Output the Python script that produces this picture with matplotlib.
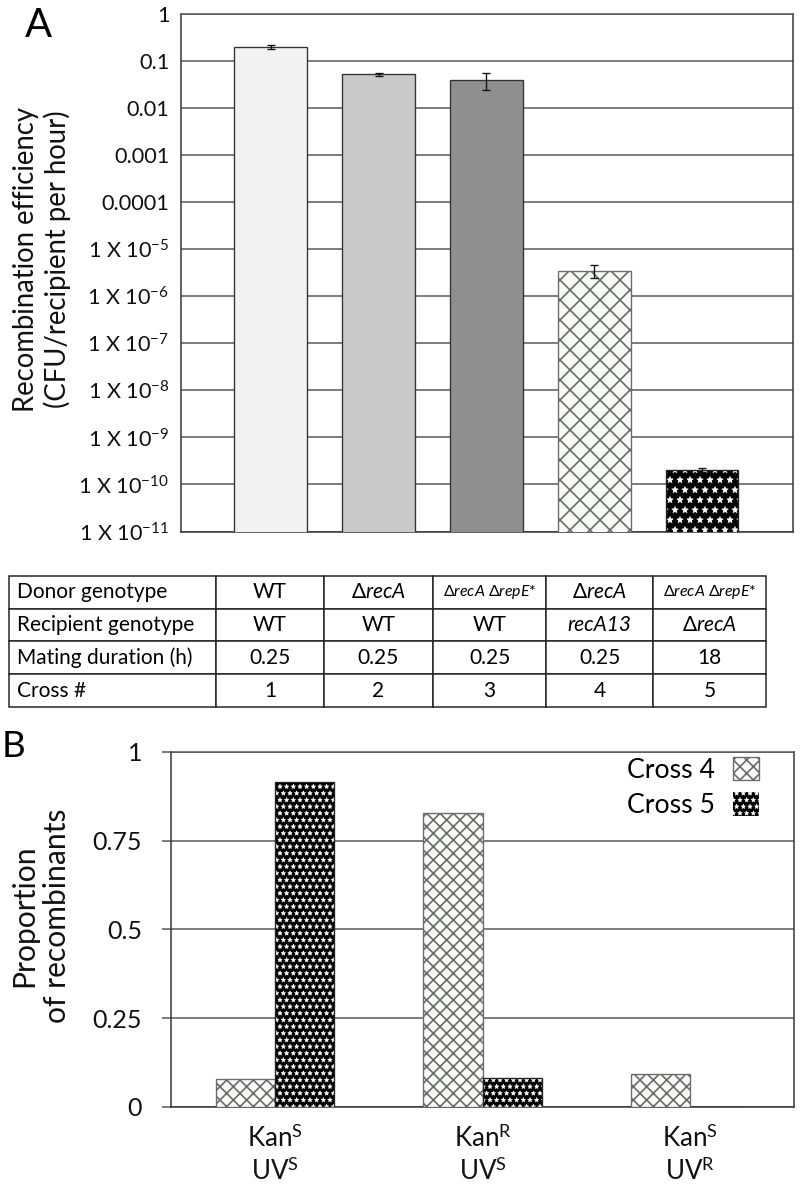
import numpy as np
import matplotlib
matplotlib.use('Agg')
import matplotlib.pyplot as plt

plt.rcParams['font.family'] = ['Lato', 'DejaVu Sans']
plt.rcParams['mathtext.fontset'] = 'custom'
plt.rcParams['mathtext.rm'] = 'Lato'
plt.rcParams['mathtext.it'] = 'Lato:italic'
plt.rcParams['mathtext.bf'] = 'Lato:bold'
plt.rcParams['hatch.linewidth'] = 1.0

# ---- panel A data ----
crosses = [1, 2, 3, 4, 5]
efficiency = [0.2, 0.053, 0.04, 3.5e-6, 2.05e-10]
efficiency_err = [0.02, 0.004, 0.016, 1.1e-6, 0.2e-10]
bar_colors = ['#f2f2f2', '#c9c9c9', '#8f8f8f', '#f7faf6', 'black']
a_ticks = [1, 0.1, 0.01, 0.001, 0.0001, 1e-5, 1e-6, 1e-7, 1e-8, 1e-9, 1e-10, 1e-11]
a_ticklabels = ['1', '0.1', '0.01', '0.001', '0.0001',
                r'1 X 10$^{\mathrm{-5}}$', r'1 X 10$^{\mathrm{-6}}$', r'1 X 10$^{\mathrm{-7}}$',
                r'1 X 10$^{\mathrm{-8}}$', r'1 X 10$^{\mathrm{-9}}$', r'1 X 10$^{\mathrm{-10}}$',
                r'1 X 10$^{\mathrm{-11}}$']

# ---- table ----
row_labels = ['Donor genotype', 'Recipient genotype', 'Mating duration (h)', 'Cross #']
donor = ['WT', r'$\Delta\mathit{recA}$', r'$\Delta\mathit{recA}$ $\Delta\mathit{repE}$*',
         r'$\Delta\mathit{recA}$', r'$\Delta\mathit{recA}$ $\Delta\mathit{repE}$*']
recipient = ['WT', 'WT', 'WT', 'recA13', r'$\Delta\mathit{recA}$']
duration = ['0.25', '0.25', '0.25', '0.25', '18']
cross_no = ['1', '2', '3', '4', '5']

# ---- panel B data ----
phenotypes = [r'Kan$^{\mathrm{S}}$' + '\n' + r'UV$^{\mathrm{S}}$',
              r'Kan$^{\mathrm{R}}$' + '\n' + r'UV$^{\mathrm{S}}$',
              r'Kan$^{\mathrm{S}}$' + '\n' + r'UV$^{\mathrm{R}}$']
cross4 = [0.078, 0.827, 0.093]
cross5 = [0.915, 0.0825, 0.0]
b_ticks = [0, 0.25, 0.5, 0.75, 1]
b_ticklabels = ['0', '0.25', '0.5', '0.75', '1']

W, H = 800, 1187
fig = plt.figure(figsize=(W / 120, H / 120), dpi=120)

grid_c = '#555555'
edge_c = '#333333'


def thin_hatch(patches, lw):
    # stars look closer to the original with a thin outline
    for p in patches:
        if hasattr(p, 'set_hatch_linewidth'):
            p.set_hatch_linewidth(lw)


# ================= panel A =================
axA = fig.add_axes([181 / W, 1 - 531.5 / H, 612 / W, 517.5 / H])
axA.set_yscale('log')
x = np.arange(len(crosses))
bw = 0.67
bars = axA.bar(x, efficiency, width=bw, zorder=3, edgecolor=edge_c, linewidth=0.8)
for b, c in zip(bars, bar_colors):
    b.set_facecolor(c)
bars[3].set_hatch('xx')
bars[3].set_edgecolor('#6b6b6b')
bars[4].set_hatch('**')
bars[4].set_edgecolor('white')
bars[4].set_linewidth(0)
thin_hatch([bars[4]], 0.3)
axA.bar(x[4], efficiency[4], width=bw, fill=False, edgecolor='#222222', linewidth=0.8, zorder=4)
axA.errorbar(x, efficiency, yerr=efficiency_err, fmt='none', ecolor='#111111',
             elinewidth=0.8, capsize=2.5, capthick=0.8, zorder=5)

axA.set_ylim(1e-11, 1)
axA.set_xlim(-0.83, 4.84)
axA.set_yticks(a_ticks, a_ticklabels)
axA.minorticks_off()
axA.set_xticks([])
axA.yaxis.grid(True, color=grid_c, linewidth=0.9)
axA.set_axisbelow(True)
axA.tick_params(axis='y', length=0, pad=7, labelsize=13, labelcolor='#111111')
for s in axA.spines.values():
    s.set_color(edge_c)
    s.set_linewidth(0.9)
axA.spines['top'].set_color(grid_c)
axA.set_ylabel('Recombination efficiency\n(CFU/recipient per hour)', fontsize=16.5,
               linespacing=1.2, color='#111111')
axA.yaxis.set_label_coords(-0.18, 0.526)

fig.text(25 / W, 1 - 37 / H, 'A', fontsize=24, ha='left', va='baseline')

# ================= table =================
axT = fig.add_axes([9 / W, 1 - 707 / H, 757 / W, 131.3 / H])
axT.axis('off')
cell_text = [[row_labels[0]] + donor,
             [row_labels[1]] + recipient,
             [row_labels[2]] + duration,
             [row_labels[3]] + cross_no]
col_w = np.array([207, 108, 109, 113, 107, 113]) / 757
tbl = axT.table(cellText=cell_text, colWidths=col_w, bbox=[0, 0, 1, 1], cellLoc='center')
tbl.auto_set_font_size(False)
tbl.set_fontsize(12.5)
for (r, c), cell in tbl.get_celld().items():
    cell.set_linewidth(0.9)
    cell.set_edgecolor('#222222')
    cell.PAD = 0.04
    if c == 0:
        cell.get_text().set_horizontalalignment('left')
    if r == 0 and c in (3, 5):
        cell.get_text().set_fontsize(9.5)
tbl[1, 4].get_text().set_fontstyle('italic')

# ================= panel B =================
axB = fig.add_axes([171 / W, 1 - 1107 / H, 623 / W, 355.3 / H])
xb = np.arange(len(phenotypes))
w = 0.285
b4 = axB.bar(xb - w / 2, cross4, width=w, color='#f7faf6', edgecolor='#6b6b6b',
             linewidth=0.8, hatch='xxx', zorder=3, label='Cross 4')
b5 = axB.bar(xb + w / 2, cross5, width=w, color='black', edgecolor='white',
             linewidth=0, hatch='***', zorder=3, label='Cross 5')
thin_hatch(b5, 0.3)
axB.bar(xb + w / 2, cross5, width=w, fill=False, edgecolor='#222222', linewidth=0.8, zorder=4)

axB.set_ylim(0, 1)
axB.set_xlim(-0.5, 2.5)
axB.set_yticks(b_ticks, b_ticklabels)
axB.set_xticks(xb, phenotypes)
axB.yaxis.grid(True, color=grid_c, linewidth=0.9)
axB.set_axisbelow(True)
axB.tick_params(axis='y', length=5.4, width=0.9, color=grid_c, pad=12, labelsize=15,
                labelcolor='#111111')
axB.tick_params(axis='x', length=0, pad=11, labelsize=15.5, labelcolor='#111111')
for lab in axB.get_xticklabels():
    lab.set_linespacing(1.25)
for s in axB.spines.values():
    s.set_color(edge_c)
    s.set_linewidth(0.9)
axB.spines['top'].set_color(grid_c)
axB.set_ylabel('Proportion\nof recombinants', fontsize=18, linespacing=1.2, color='#111111')
axB.yaxis.set_label_coords(-0.1605, 0.538)

leg = axB.legend(handles=[b4, b5], loc='upper right', bbox_to_anchor=(0.9438, 0.985),
                 frameon=False, markerfirst=False, fontsize=16, handlelength=0.975,
                 handleheight=0.975, handletextpad=0.675, labelspacing=0.35,
                 borderpad=0, borderaxespad=0)
thin_hatch(leg.get_patches()[1:], 0.3)

fig.text(2 / W, 1 - 757 / H, 'B', fontsize=22, ha='left', va='baseline')

fig.savefig('out.png', dpi=120)
